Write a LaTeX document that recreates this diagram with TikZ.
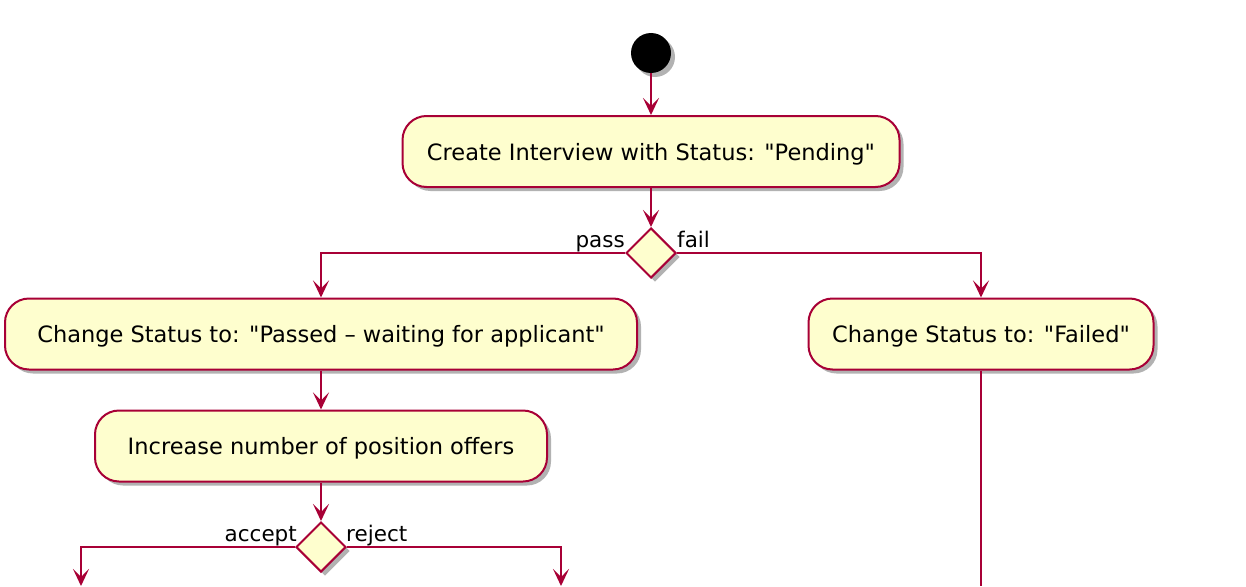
\documentclass[tikz,border=0pt]{standalone}
\usepackage{fontspec}
\setmainfont{DejaVu Sans}[Ligatures=TeXOff]
\usetikzlibrary{arrows.meta,shadows,shapes.geometric}
\definecolor{pborder}{HTML}{A80036}
\definecolor{pfill}{HTML}{FEFECE}
\begin{document}
\begin{tikzpicture}[x=1pt,y=-1pt,
  shad/.style={drop shadow={shadow xshift=4pt,shadow yshift=-4pt,fill=black!55,opacity=0.55}},
  act/.style={draw=pborder, fill=pfill, line width=2pt, rounded corners=24pt,
    minimum height=71pt, inner sep=0pt, text=black, text depth=0pt,
    font=\fontsize{22.5}{26}\selectfont, shad},
  dec/.style={diamond, draw=pborder, fill=pfill, line width=2pt, aspect=1,
    minimum width=50pt, minimum height=50pt, inner sep=0pt, shad},
  arr/.style={draw=pborder, line width=2pt,
    -{Stealth[length=17pt,width=16pt,inset=8pt]}},
  conn/.style={draw=pborder, line width=2pt},
  lbl/.style={font=\fontsize{21.5}{25}\selectfont, text=black, inner sep=0pt}]
\useasboundingbox (0,0) rectangle (1246,586);
\fill[white] (0,0) rectangle (1246,586);
\node[circle, fill=black, minimum size=40pt, inner sep=0pt, shad] (start) at (651,53) {};
\node[act, minimum width=497pt] (b1) at (651,151.5) {Create Interview with Status: "Pending"};
\node[dec] (d1) at (651,253) {};
\node[act, minimum width=632pt] (b2) at (321,334) {Change Status to: "Passed – waiting for applicant"};
\node[act, minimum width=345pt] (b3) at (981,334) {Change Status to: "Failed"};
\node[act, minimum width=452pt] (b4) at (321,446) {Increase number of position offers};
\node[dec] (d2) at (321,547) {};
\coordinate (c1) at (81,586);
\coordinate (c2) at (561,586);
\coordinate (c3) at (981,586);
\node[lbl, anchor=base east] (lpass) at (625,247) {pass};
\node[lbl, anchor=base west] (lfail) at (677,247) {fail};
\node[lbl, anchor=base east] (lacc) at (297,541) {accept};
\node[lbl, anchor=base west] (lrej) at (346,541) {reject};
\draw[arr] (start) -- (b1);
\draw[arr] (b1) -- (d1);
\draw[arr] (d1.west) -| (b2.north);
\draw[arr] (d1.east) -| (b3.north);
\draw[arr] (b2) -- (b4);
\draw[arr] (b4) -- (d2);
\draw[arr] (d2.west) -| (c1);
\draw[arr] (d2.east) -| (c2);
\draw[conn] (b3) -- (c3);
\end{tikzpicture}
\end{document}
